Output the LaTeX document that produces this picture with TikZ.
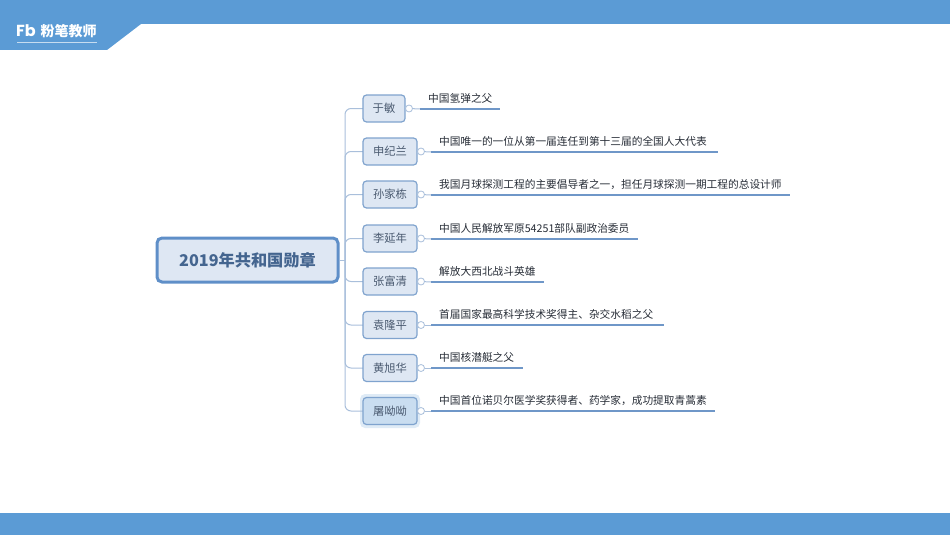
\documentclass[tikz,border=0pt]{standalone}
\usepackage{fontspec}
\setmainfont{Noto Sans CJK SC}
\newfontfamily\latinbold{Poppins}
\definecolor{band}{HTML}{5B9BD5}
\definecolor{boxfill}{HTML}{DEE7F3}
\definecolor{boxline}{HTML}{7FA3CE}
\definecolor{rootline}{HTML}{5F8FC8}
\definecolor{roottext}{HTML}{44658F}
\definecolor{twig}{HTML}{A9BFDB}
\definecolor{under}{HTML}{6F97C8}
\definecolor{label}{HTML}{262C36}
\definecolor{namec}{HTML}{4A5A70}
\definecolor{boxsel}{HTML}{C9DDF0}
\tikzset{
  x=1pt,y=-1pt,
  rootbox/.style={draw=rootline,line width=3pt,fill=boxfill,rounded corners=5pt,minimum width=181pt,minimum height=44pt,inner sep=0pt,text=roottext,font=\fontsize{16.2}{18}\selectfont\bfseries},
  namebox/.style={draw=boxline,line width=1.2pt,rounded corners=3.5pt,minimum height=27pt,inner sep=0pt,text=namec,font=\fontsize{11.3}{13}\selectfont},
  note/.style={anchor=west,inner sep=0pt,text=label,font=\fontsize{10.7}{12}\selectfont},
  knob/.style={circle,draw=twig,fill=white,line width=.8pt,minimum size=7pt,inner sep=0pt},
  twigline/.style={draw=twig,line width=1pt},
  underline/.style={draw=under,line width=2pt},
}
\begin{document}
\begin{tikzpicture}
\useasboundingbox (0,0) rectangle (950,535);
% bands
\fill[band] (0,0) -- (950,0) -- (950,24) -- (141,24) -- (107,50) -- (0,50) -- cycle;
\fill[band] (0,513) rectangle (950,535);
\node[anchor=west,inner sep=0pt,text=white] (fb) at (16,31) {\latinbold\fontsize{16}{18}\selectfont\bfseries Fb};
\node[anchor=west,inner sep=0pt,text=white] (brand) at (40.5,31) {\fontsize{14}{16}\selectfont\bfseries 粉笔教师};
\coordinate (ruleL) at (17,42.5);
\coordinate (ruleR) at (97,42.5);
\draw[white!65!band,line width=1pt] (ruleL) -- (ruleR);
% root
\node[rootbox] (root) at (247.5,260) {2019年共和国勋章};
\coordinate (trunk) at (345,260);
\draw[twigline] (root.east) -- (trunk);
% selection glow
\fill[boxsel!60,rounded corners=5pt] (360,394) rectangle (420,428);
% children
\foreach \nm/\txt/\cy/\w/\kx/\ux/\tx/\uend/\bx/\note in {
 a/于敏/108.5/42/409/420/428/500/boxfill/中国氢弹之父,
 b/申纪兰/151.5/54/421/431/439/718/boxfill/中国唯一的一位从第一届连任到第十三届的全国人大代表,
 c/孙家栋/194.5/54/421/431/439/790/boxfill/我国月球探测工程的主要倡导者之一，担任月球探测一期工程的总设计师,
 d/李延年/238.5/54/421/431/439/638/boxfill/中国人民解放军原54251部队副政治委员,
 e/张富清/281.5/54/421/431/439/544/boxfill/解放大西北战斗英雄,
 f/袁隆平/325/54/421/431/439/664/boxfill/首届国家最高科学技术奖得主、杂交水稻之父,
 g/黄旭华/368/54/421/431/439/523/boxfill/中国核潜艇之父,
 h/屠呦呦/411/54/421/431/439/715/boxsel/中国首位诺贝尔医学奖获得者、药学家，成功提取青蒿素}
{
  \draw[twigline,rounded corners=6pt] (363,\cy) -| (trunk);
  \node[namebox,fill=\bx,minimum width=\w pt] (n\nm) at ({363+\w/2},\cy) {\txt};
  \node[knob] (k\nm) at (\kx,\cy) {};
  \pgfmathsetmacro{\uy}{round(\cy)}
  \coordinate (us\nm) at (\ux,\uy);
  \coordinate (ue\nm) at (\uend,\uy);
  \node[note] (t\nm) at (\tx,{\cy-10.3}) {\note};
  \draw[twigline] (k\nm) -- (us\nm);
  \draw[underline] (us\nm) -- (ue\nm);
}
\end{tikzpicture}
\end{document}
